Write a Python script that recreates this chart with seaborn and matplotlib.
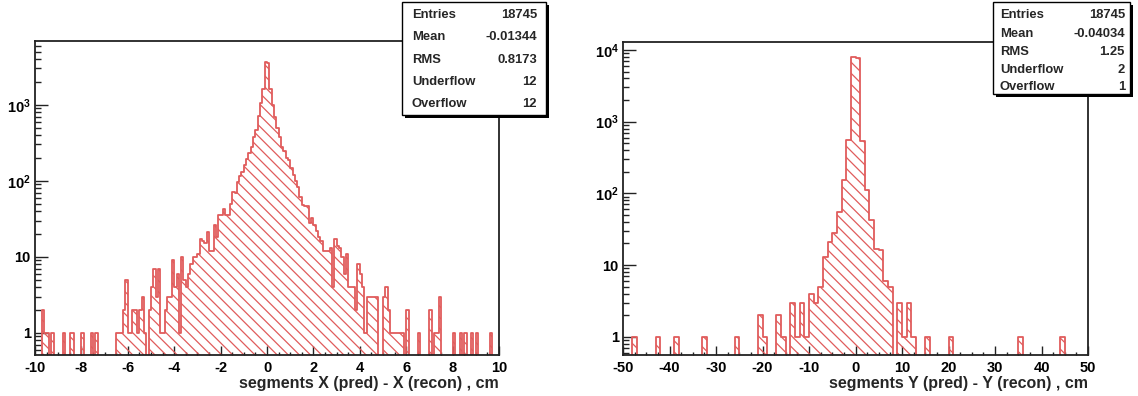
import numpy as np
import pandas as pd
import matplotlib
matplotlib.use("Agg")
import matplotlib.pyplot as plt
import seaborn as sns
from matplotlib.ticker import MultipleLocator, FixedLocator, LogLocator, NullFormatter, FuncFormatter
from matplotlib.patches import Rectangle

# ---------------- data ----------------
left_range = (-10.0, 10.0)
left_nbins = 200
left_counts = [
    0, 0, 0, 2, 1, 1, 0, 1, 0, 0,
    0, 0, 1, 0, 0, 1, 1, 0, 0, 0,
    1, 0, 0, 0, 1, 0, 1, 0, 0, 0,
    0, 0, 0, 0, 0, 1, 1, 1, 2, 5,
    1, 1, 2, 2, 1, 2, 3, 1, 0, 2,
    4, 7, 3, 7, 1, 1, 2, 3, 3, 9,
    4, 6, 1, 10, 5, 4, 6, 8, 10, 10,
    11, 17, 16, 15, 21, 12, 12, 26, 18, 35,
    35, 43, 35, 35, 50, 72, 68, 97, 115, 131,
    161, 196, 229, 280, 375, 470, 715, 1050, 1600, 3700,
    3500, 1600, 1000, 700, 500, 380, 280, 250, 200, 190,
    145, 120, 100, 83, 62, 48, 46, 46, 28, 32,
    26, 22, 18, 16, 12, 12, 12, 13, 4, 17,
    14, 13, 10, 6, 11, 4, 4, 4, 2, 8,
    6, 4, 1, 3, 3, 3, 3, 3, 0, 0,
    3, 4, 2, 1, 1, 1, 1, 1, 1, 0,
    2, 0, 0, 0, 0, 1, 0, 0, 0, 0,
    2, 0, 1, 1, 3, 0, 0, 0, 0, 0,
    1, 0, 0, 1, 0, 1, 0, 0, 1, 0,
    1, 0, 0, 0, 0, 0, 1, 0, 0, 0,
]

right_range = (-50.0, 50.0)
right_nbins = 100
right_counts = [
    0, 0, 1, 0, 0, 0, 0, 1, 0, 0,
    0, 1, 0, 0, 0, 0, 0, 1, 0, 0,
    0, 0, 0, 0, 1, 0, 0, 0, 0, 2,
    1, 0, 0, 2, 1, 0, 3, 1, 3, 1,
    4, 3, 5, 13, 21, 28, 55, 153, 560, 8000,
    7700, 530, 111, 42, 17, 16, 6, 5, 0, 3,
    1, 3, 1, 0, 0, 1, 0, 0, 0, 0,
    1, 0, 0, 0, 0, 0, 0, 0, 0, 0,
    0, 0, 0, 0, 0, 1, 0, 0, 0, 0,
    0, 0, 0, 0, 1, 0, 0, 0, 0, 0,
]

left_xlabel = "segments X (pred) - X (recon) , cm"
right_xlabel = "segments Y (pred) - Y (recon) , cm"

stat_names = ["Entries", "Mean", "RMS", "Underflow", "Overflow"]
left_stat_values = ["18745", "-0.01344", "0.8173", "12", "12"]
right_stat_values = ["18745", "-0.04034", "1.25", "2", "1"]

# ---------------- style ----------------
sns.set_style("ticks")
plt.rcParams["font.family"] = ["Liberation Sans", "DejaVu Sans"]
plt.rcParams["font.weight"] = "bold"
plt.rcParams["axes.unicode_minus"] = False
plt.rcParams["mathtext.fontset"] = "custom"
plt.rcParams["mathtext.rm"] = "Liberation Sans:bold"
plt.rcParams["mathtext.bf"] = "Liberation Sans:bold"
plt.rcParams["mathtext.it"] = "Liberation Sans:bold"
plt.rcParams["hatch.linewidth"] = 0.9
RED = "#e05c5c"
plt.rcParams["hatch.color"] = RED

W, H = 1138, 396
fig = plt.figure(figsize=(W / 100, H / 100), dpi=100)
fig.patch.set_facecolor("white")


def px_axes(x0, y0, x1, y1):
    return fig.add_axes([x0 / W, 1 - y1 / H, (x1 - x0) / W, (y1 - y0) / H])


def log_fmt(v, pos):
    e = int(round(np.log10(v)))
    if e == 0:
        return "1"
    if e == 1:
        return "10"
    return r"$\mathbf{10^{%d}}$" % e


def draw_hist(ax, counts, rng, nbins, ylim, xmaj, xmin, yticks, xlabel):
    width = (rng[1] - rng[0]) / nbins
    centers = rng[0] + width * (np.arange(nbins) + 0.5)
    df = pd.DataFrame({"x": centers, "w": np.asarray(counts, dtype=float)})
    sns.histplot(data=df, x="x", weights="w", bins=nbins, binrange=rng, element="step",
                 fill=True, color=RED, ax=ax, linewidth=1.3)
    for coll in ax.collections:
        coll.set_facecolor("none")
        coll.set_edgecolor(RED)
        coll.set_hatch("\\\\\\")
        coll.set_linewidth(1.3)
    ax.set_yscale("log")
    ax.set_xlim(*rng)
    ax.set_ylim(*ylim)
    ax.xaxis.set_major_locator(MultipleLocator(xmaj))
    ax.xaxis.set_minor_locator(MultipleLocator(xmin))
    ax.yaxis.set_major_locator(FixedLocator(yticks))
    ax.yaxis.set_major_formatter(FuncFormatter(log_fmt))
    ax.yaxis.set_minor_locator(LogLocator(base=10, subs=np.arange(2, 10)))
    ax.yaxis.set_minor_formatter(NullFormatter())
    ax.tick_params(axis="both", which="both", direction="in", top=False, right=False,
                   colors="#222222", labelcolor="black", width=1.0)
    ax.tick_params(axis="x", which="major", length=6.5, pad=4, labelsize=10.5)
    ax.tick_params(axis="x", which="minor", length=2.5)
    ax.tick_params(axis="y", which="major", length=9.5, pad=3, labelsize=10.5)
    ax.tick_params(axis="y", which="minor", length=4.5)
    for lab in ax.get_xticklabels() + ax.get_yticklabels():
        lab.set_fontweight("bold")
    for s in ax.spines.values():
        s.set_visible(True)
        s.set_linewidth(1.3)
        s.set_color("#222222")
    ax.set_ylabel("")
    ax.set_xlabel(xlabel, loc="right", fontsize=11.5, fontweight="bold", labelpad=1)
    ax.set_facecolor("white")


ax1 = px_axes(35, 41, 499, 355)
draw_hist(ax1, left_counts, left_range, left_nbins, (0.51, 6900), 2, 0.5,
          [1, 10, 100, 1000], left_xlabel)

ax2 = px_axes(623, 42, 1088, 355)
draw_hist(ax2, right_counts, right_range, right_nbins, (0.556, 12900), 10, 2.5,
          [1, 10, 100, 1000, 10000], right_xlabel)


def stats_box(x0, y0, x1, y1, rows_y, lab_x, val_x, values, fs):
    sh = 2.5
    fig.add_artist(Rectangle(((x0 + sh) / W, 1 - (y1 + sh) / H), (x1 - x0) / W, (y1 - y0) / H,
                             transform=fig.transFigure, facecolor="black", edgecolor="black",
                             linewidth=0, zorder=10))
    fig.add_artist(Rectangle((x0 / W, 1 - y1 / H), (x1 - x0) / W, (y1 - y0) / H,
                             transform=fig.transFigure, facecolor="white", edgecolor="black",
                             linewidth=1.0, zorder=11))
    for name, val, ry in zip(stat_names, values, rows_y):
        fig.text(lab_x / W, 1 - ry / H, name, ha="left", va="center", fontsize=fs,
                 fontweight="bold", zorder=12)
        fig.text(val_x / W, 1 - ry / H, val, ha="right", va="center", fontsize=fs,
                 fontweight="bold", zorder=12)


stats_box(402, 2, 546, 115, [15, 37, 60, 82, 104], 412, 537, left_stat_values, 9.4)
stats_box(993, 2, 1130, 94, [15, 34, 52, 70, 87], 1000, 1125, right_stat_values, 9.4)

fig.savefig("out.png", dpi=100, facecolor="white")
